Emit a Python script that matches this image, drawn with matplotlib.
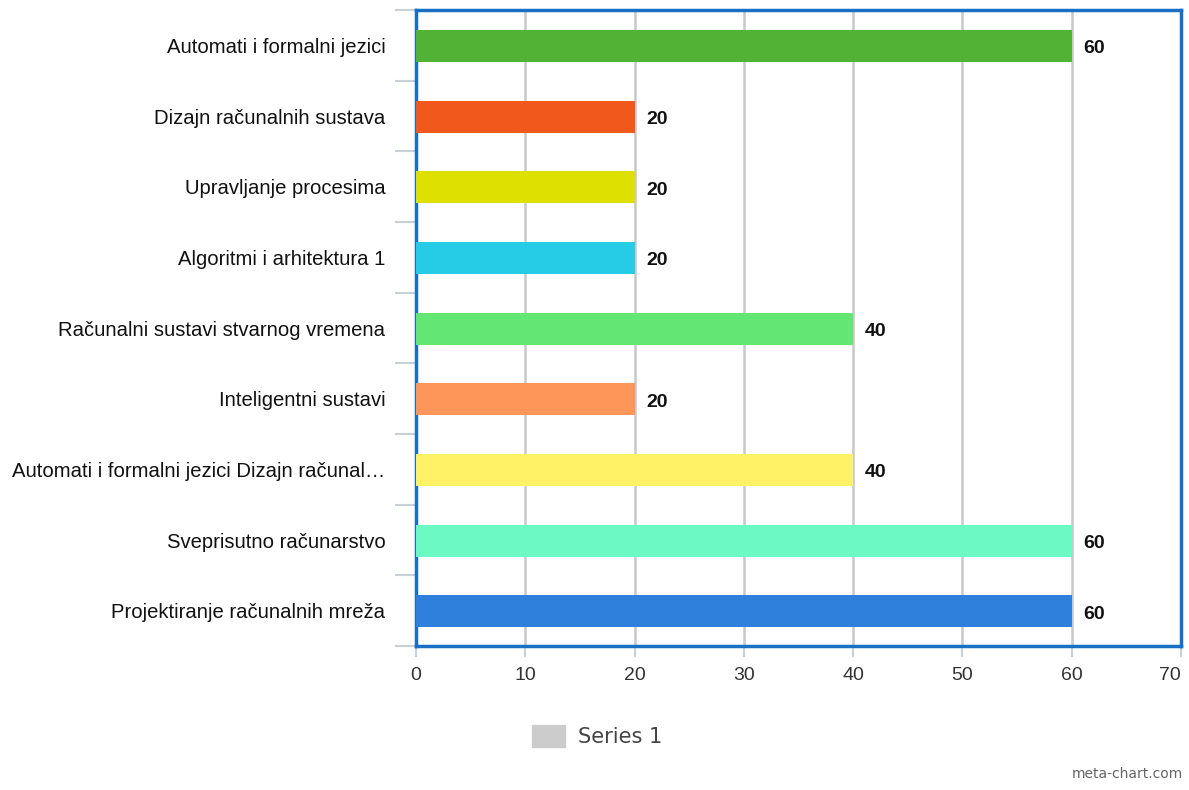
import numpy as np
import matplotlib
matplotlib.use("Agg")
import matplotlib.pyplot as plt
from matplotlib.patches import Patch

categories = [
    "Automati i formalni jezici",
    "Dizajn računalnih sustava",
    "Upravljanje procesima",
    "Algoritmi i arhitektura 1",
    "Računalni sustavi stvarnog vremena",
    "Inteligentni sustavi",
    "Automati i formalni jezici Dizajn računal…",
    "Sveprisutno računarstvo",
    "Projektiranje računalnih mreža",
]
values = [60, 20, 20, 20, 40, 20, 40, 60, 60]
colors = ["#52b236", "#f0581c", "#dde000", "#26cce6", "#63e673",
          "#ff9659", "#fff266", "#6cf9c4", "#2f80dc"]
xticks = [0, 10, 20, 30, 40, 50, 60, 70]

plt.rcParams['font.family'] = ['Liberation Sans', 'DejaVu Sans']

fig = plt.figure(figsize=(11.89, 7.9), dpi=100)
ax = fig.add_axes([416/1189, 1 - 646/790, 765/1189, 636/790])

n = len(categories)
y = np.arange(n)
ax.barh(y + 0.01, values, height=0.45, color=colors, zorder=3)
ax.set_ylim(n - 0.5, -0.5)
ax.set_xlim(0, 70)

for yi, v in zip(y, values):
    ax.text(v + 1.1, yi + 0.05, str(v), va='center', ha='left', fontsize=14,
            fontweight='bold', color='#111111', zorder=4)

ax.set_xticks(xticks)
ax.set_xticklabels([str(t) for t in xticks], fontsize=14, color='#333333')
ax.get_xticklabels()[-1].set_horizontalalignment('right')
ax.set_yticks(y)
ax.set_yticklabels(categories, fontsize=14.6, color='#111111')
ax.tick_params(axis='y', which='major', length=0, pad=22)
ax.set_yticks(np.arange(n + 1) - 0.5, minor=True)
ax.tick_params(axis='y', which='minor', length=15, width=1.5, color='#c8d0d8')
ax.tick_params(axis='x', which='major', length=8, width=1.5, color='#c8d0d8', pad=7)

ax.grid(axis='x', color='#c8c8c8', linewidth=1.8, zorder=1)
for s in ax.spines.values():
    s.set_color('#1a6fc4')
    s.set_linewidth(2.5)

handles = [Patch(facecolor='#cccccc', edgecolor='#cccccc', label='Series 1')]
fig.legend(handles=handles, loc='center', bbox_to_anchor=(597/1189, 1 - 736/790),
           frameon=False, prop={'family': 'DejaVu Sans', 'size': 15},
           handlelength=1.6, handleheight=1.2, handletextpad=0.6,
           labelcolor='#444444')

fig.text(0.995, 0.012, "meta-chart.com", ha='right', va='bottom', fontsize=10,
         color='#666666', family='DejaVu Sans')

fig.savefig("out.png", dpi=100)
